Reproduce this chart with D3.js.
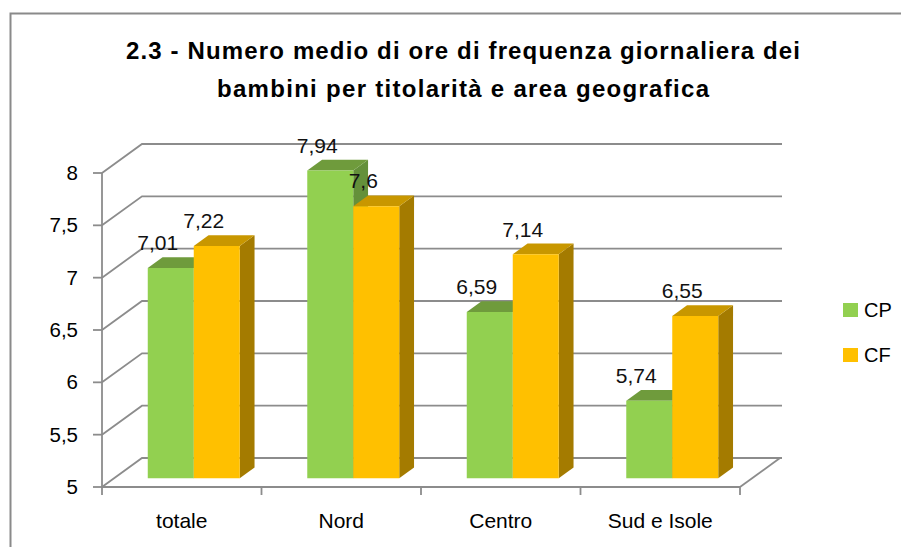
<!DOCTYPE html>
<html>
<head>
<meta charset="utf-8">
<script src="https://cdn.jsdelivr.net/npm/d3@7"></script>
<style>
  html, body { margin: 0; padding: 0; background: #fff; }
  svg { display: block; font-family: "Liberation Sans", Arial, sans-serif; }
</style>
</head>
<body>
<svg id="chart" width="901" height="547"></svg>
<script>
// Average daily attendance hours by ownership and geographic area
const categories = ["totale", "Nord", "Centro", "Sud e Isole"];
const seriesNames = ["CP", "CF"];
const valuesCP = [7.01, 7.94, 6.59, 5.74];
const valuesCF = [7.22, 7.6, 7.14, 6.55];
const yTicks = [5, 5.5, 6, 6.5, 7, 7.5, 8];
const titleLines = [
  "2.3 - Numero medio di ore di frequenza giornaliera dei",
  "bambini per titolarità e area geografica"
];
const titleWidths = [674, 492];

const colors = {
  CP: { front: "#92D050", top: "#6F9B3C", side: "#64903A" },
  CF: { front: "#FFC000", top: "#C89700", side: "#A47B00" }
};

const svg = d3.select("#chart");

// outer frame
svg.append("rect")
  .attr("x", 10.5).attr("y", 13.5)
  .attr("width", 920).attr("height", 560)
  .attr("fill", "none").attr("stroke", "#8a8a8a").attr("stroke-width", 2);

// title
svg.append("g").selectAll("text").data(titleLines).join("text")
  .attr("x", 463).attr("y", (d, i) => 59 + i * 38)
  .attr("text-anchor", "middle")
  .attr("font-weight", "bold").attr("font-size", 24)
  .attr("textLength", (d, i) => titleWidths[i]).attr("lengthAdjust", "spacing")
  .attr("fill", "#000")
  .text(d => d);

// oblique 3D projection: depth fraction t shifts by (DX, -DY)
const DX = 40, DY = 29;
const y = d3.scaleLinear().domain([5, 8]).range([487, 173]);
const x0 = d3.scaleBand().domain(categories).range([102, 740]);
const x1 = d3.scaleBand().domain(seriesNames).range([0, x0.bandwidth()])
  .paddingInner(0).paddingOuter(0.734);

const P = (px, v, t) => [px + t * DX, y(v) - t * DY];

const grid = svg.append("g").attr("stroke", "#8c8c8c").attr("stroke-width", 1.8)
  .attr("fill", "none");

// back wall gridlines + left side wall diagonals
yTicks.forEach(v => {
  const a = P(102, v, 0), b = P(102, v, 1), c = P(782 - DX, v, 1);
  grid.append("path").attr("d", `M${a[0]},${a[1]}L${b[0]},${b[1]}L${c[0]},${c[1]}`);
});
// floor right edge
{
  const fl = P(740, 5, 0), br = P(740, 5, 1);
  grid.append("path").attr("d", `M${fl[0]},${fl[1]}L${br[0]},${br[1]}`);
}

// axes
const axis = svg.append("g").attr("stroke", "#8c8c8c").attr("stroke-width", 1.8);
axis.append("line").attr("x1", 102).attr("x2", 102).attr("y1", y(8)).attr("y2", y(5));
axis.append("line").attr("x1", 102).attr("x2", 740).attr("y1", y(5)).attr("y2", y(5));
axis.selectAll(".yt").data(yTicks).join("line")
  .attr("x1", 93).attr("x2", 102).attr("y1", d => y(d)).attr("y2", d => y(d));
const bounds = categories.map(c => x0(c)).concat([x0.range()[1]]);
axis.selectAll(".xt").data(bounds).join("line")
  .attr("x1", d => d).attr("x2", d => d).attr("y1", y(5)).attr("y2", y(5) + 8);

const fmt = v => String(v).replace(".", ",");

svg.append("g").selectAll("text").data(yTicks).join("text")
  .attr("x", 78).attr("y", d => y(d) + 7)
  .attr("text-anchor", "end").attr("font-size", 20.5).attr("fill", "#000")
  .text(d => fmt(d));

svg.append("g").selectAll("text").data(categories).join("text")
  .attr("x", d => x0(d) + x0.bandwidth() / 2).attr("y", 528)
  .attr("text-anchor", "middle").attr("font-size", 21).attr("fill", "#000")
  .text(d => d);

// bars
const T0 = 0.3, TD = 0.37;
const bars = [];
categories.forEach((c, i) => {
  bars.push({ cat: c, s: "CP", v: valuesCP[i] });
  bars.push({ cat: c, s: "CF", v: valuesCF[i] });
});

const barG = svg.append("g");
bars.forEach(b => {
  const xl = x0(b.cat) + x1(b.s), xr = xl + x1.bandwidth();
  const fTL = P(xl, b.v, T0), fTR = P(xr, b.v, T0), fBR = P(xr, 5, T0), fBL = P(xl, 5, T0);
  const bTL = P(xl, b.v, T0 + TD), bTR = P(xr, b.v, T0 + TD), bBR = P(xr, 5, T0 + TD);
  const poly = pts => "M" + pts.map(p => p.join(",")).join("L") + "Z";
  const col = colors[b.s];
  barG.append("path").attr("d", poly([fTR, bTR, bBR, fBR])).attr("fill", col.side);
  barG.append("path").attr("d", poly([fTL, bTL, bTR, fTR])).attr("fill", col.top);
  barG.append("path").attr("d", poly([fTL, fTR, fBR, fBL])).attr("fill", col.front);
  b.lx = (xl + xr) / 2 - 1;
  b.ly = bTL[1] - 7;
});

svg.append("g").selectAll("text").data(bars).join("text")
  .attr("x", d => d.lx).attr("y", d => d.ly)
  .attr("text-anchor", "middle").attr("font-size", 21).attr("fill", "#111")
  .text(d => fmt(d.v));

// legend
const lg = svg.append("g").selectAll("g").data(seriesNames).join("g")
  .attr("transform", (d, i) => `translate(843,${303 + i * 45})`);
lg.append("rect").attr("width", 15).attr("height", 14).attr("fill", d => colors[d].front);
lg.append("text").attr("x", 21).attr("y", 14).attr("font-size", 20).attr("fill", "#000")
  .text(d => d);
</script>
</body>
</html>
